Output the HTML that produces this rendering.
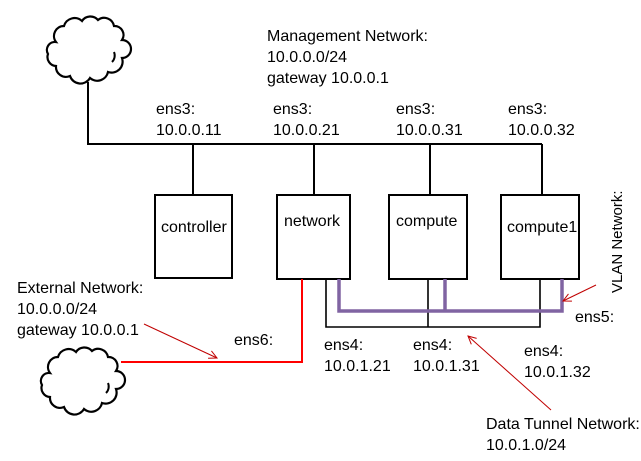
<!DOCTYPE html>
<html><head><meta charset="utf-8"><style>
html,body{margin:0;padding:0;background:#fff;}
svg text{font-family:"Liberation Sans",sans-serif;font-size:16px;fill:#000;}
</style></head><body>
<svg width="641" height="456" viewBox="0 0 641 456" xmlns="http://www.w3.org/2000/svg">
<defs>
<marker id="ah" markerWidth="10" markerHeight="10" refX="9" refY="5" orient="auto" markerUnits="userSpaceOnUse">
<path d="M1,1 L9,5 L1,9" fill="none" stroke="#c00000" stroke-width="1"/>
</marker>
<g id="cloud">
<path d="M14,28 A10,10 0 0 1 22,12 A11,11 0 0 1 40,7 A10,10 0 0 1 56,6 A10,10 0 0 1 72,12 A9,9 0 0 1 80,26 A9,9 0 0 1 80,44 A11,11 0 0 1 66,58 A11,11 0 0 1 48,64 A11,11 0 0 1 28,62 A10,10 0 0 1 14,52 A9,9 0 0 1 6,40 A8,8 0 0 1 14,28 Z" fill="#fff" stroke="#000" stroke-width="2.2"/>
<path d="M70,48 A9,9 0 0 0 72,38" fill="none" stroke="#000" stroke-width="2"/>
</g>
</defs>
<g stroke="#000" stroke-width="2" fill="none">
<polyline points="88,82 88,144 542,144"/>
<line x1="193" y1="144" x2="193" y2="195"/>
<line x1="314" y1="144" x2="314" y2="195"/>
<line x1="430" y1="144" x2="430" y2="195"/>
<line x1="542" y1="144" x2="542" y2="195"/>
<rect x="155" y="195" width="77" height="83" fill="#fff"/>
<rect x="277" y="195" width="73" height="84" fill="#fff"/>
<rect x="389" y="195" width="78" height="84" fill="#fff"/>
<rect x="501" y="195" width="78" height="84" fill="#fff"/>
</g>
<g stroke="#000" stroke-width="1.6" fill="none">
<polyline points="326,279 326,327 540,327 540,279"/>
<line x1="428" y1="279" x2="428" y2="327"/>
</g>
<g stroke="#8064a2" stroke-width="3.5" fill="none">
<polyline points="339,279 339,311 562,311 562,279"/>
<line x1="445" y1="279" x2="445" y2="311"/>
</g>
<polyline points="121,362 302,362 302,279" stroke="#ff0000" stroke-width="2" fill="none"/>
<g stroke="#c00000" stroke-width="1" fill="none">
<line x1="144" y1="324" x2="217" y2="358" marker-end="url(#ah)"/>
<line x1="596" y1="285" x2="563" y2="301" marker-end="url(#ah)"/>
<line x1="551" y1="410" x2="468" y2="336" marker-end="url(#ah)"/>
</g>
<use href="#cloud" x="42" y="14"/>
<use href="#cloud" x="36" y="345"/>
<text x="267" y="41">Management Network:</text>
<text x="267" y="62">10.0.0.0/24</text>
<text x="267" y="83">gateway 10.0.0.1</text>
<text x="156" y="114">ens3:</text><text x="156" y="135">10.0.0.11</text>
<text x="273" y="114">ens3:</text><text x="273" y="135">10.0.0.21</text>
<text x="396" y="114">ens3:</text><text x="396" y="135">10.0.0.31</text>
<text x="508" y="114">ens3:</text><text x="508" y="135">10.0.0.32</text>
<text x="161" y="232">controller</text>
<text x="284" y="226">network</text>
<text x="396" y="226">compute</text>
<text x="507" y="232">compute1</text>
<text x="17" y="293">External Network:</text>
<text x="17" y="314">10.0.0.0/24</text>
<text x="17" y="335">gateway 10.0.0.1</text>
<text x="234" y="345">ens6:</text>
<text x="324" y="350">ens4:</text><text x="324" y="371">10.0.1.21</text>
<text x="413" y="350">ens4:</text><text x="413" y="371">10.0.1.31</text>
<text x="524" y="356">ens4:</text><text x="524" y="377">10.0.1.32</text>
<text x="575" y="322">ens5:</text>
<text x="486" y="429">Data Tunnel Network:</text>
<text x="486" y="450">10.0.1.0/24</text>
<text transform="translate(622,293) rotate(-90)" style="font-size:15px">VLAN Network:</text>
</svg>
</body></html>
